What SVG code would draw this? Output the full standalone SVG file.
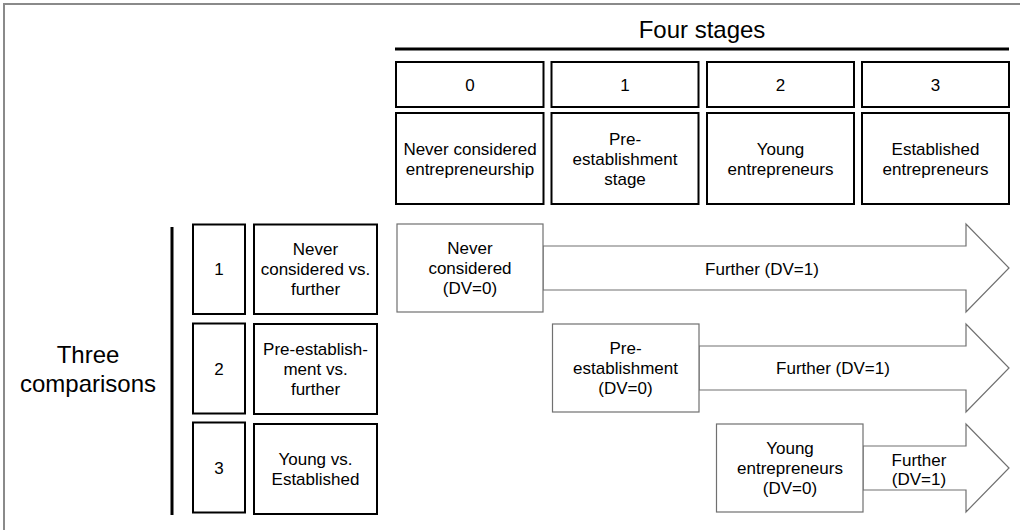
<svg xmlns="http://www.w3.org/2000/svg" width="1020" height="530" viewBox="0 0 1020 530">
<style>
  text { font-family: "Liberation Sans", Arial, sans-serif; fill: #000; text-anchor: middle; }
  .t17 { font-size: 17px; }
  .title { font-size: 24px; }
  .bold { fill: #fff; stroke: #000; stroke-width: 2; }
  .thin { fill: #fff; stroke: #707070; stroke-width: 1.2; }
  .bar { stroke: #000; stroke-width: 3; fill: none; }
  .frame { fill: none; stroke: #8a8a8a; stroke-width: 2; }
</style>
<rect width="1020" height="530" fill="#fff"/>
<rect class="frame" x="4" y="4" width="1040" height="560"/>

<g id="title-stages">
  <text class="title" x="702" y="38">Four stages</text>
  <line class="bar" x1="395" y1="49" x2="1009" y2="49"/>
</g>

<g id="stage-0">
  <rect class="bold" x="396" y="62" width="147.5" height="45"/>
  <text class="t17" x="470" y="91">0</text>
  <rect class="bold" x="396" y="113" width="147.5" height="91"/>
  <text class="t17" x="470" y="155">Never considered</text>
  <text class="t17" x="470" y="175">entrepreneurship</text>
</g>
<g id="stage-1">
  <rect class="bold" x="551.5" y="62" width="147" height="45"/>
  <text class="t17" x="625" y="91">1</text>
  <rect class="bold" x="551.5" y="113" width="147" height="91"/>
  <text class="t17" x="625" y="145">Pre-</text>
  <text class="t17" x="625" y="165">establishment</text>
  <text class="t17" x="625" y="185">stage</text>
</g>
<g id="stage-2">
  <rect class="bold" x="707" y="62" width="147" height="45"/>
  <text class="t17" x="780.5" y="91">2</text>
  <rect class="bold" x="707" y="113" width="147" height="91"/>
  <text class="t17" x="780.5" y="155">Young</text>
  <text class="t17" x="780.5" y="175">entrepreneurs</text>
</g>
<g id="stage-3">
  <rect class="bold" x="862" y="62" width="147" height="45"/>
  <text class="t17" x="935.5" y="91">3</text>
  <rect class="bold" x="862" y="113" width="147" height="91"/>
  <text class="t17" x="935.5" y="155">Established</text>
  <text class="t17" x="935.5" y="175">entrepreneurs</text>
</g>

<g id="title-comparisons">
  <text class="title" x="88" y="363">Three</text>
  <text class="title" x="88" y="392">comparisons</text>
  <line class="bar" x1="172" y1="227" x2="172" y2="515"/>
</g>

<g id="comparison-1">
  <rect class="bold" x="193" y="224.5" width="52" height="89.5"/>
  <text class="t17" x="219" y="275">1</text>
  <rect class="bold" x="254" y="224.5" width="123" height="89.5"/>
  <text class="t17" x="315.5" y="255">Never</text>
  <text class="t17" x="315.5" y="275">considered vs.</text>
  <text class="t17" x="315.5" y="295">further</text>
</g>
<g id="comparison-2">
  <rect class="bold" x="193" y="323.5" width="52" height="90"/>
  <text class="t17" x="219" y="374.5">2</text>
  <rect class="bold" x="254" y="324" width="123" height="90"/>
  <text class="t17" x="315.5" y="355">Pre-establish-</text>
  <text class="t17" x="315.5" y="375">ment vs.</text>
  <text class="t17" x="315.5" y="395">further</text>
</g>
<g id="comparison-3">
  <rect class="bold" x="193" y="422.5" width="52" height="90"/>
  <text class="t17" x="219" y="473.5">3</text>
  <rect class="bold" x="254" y="424" width="123" height="90"/>
  <text class="t17" x="315.5" y="465">Young vs.</text>
  <text class="t17" x="315.5" y="485">Established</text>
</g>

<g id="connectors">
  <polygon class="thin" points="543,246 966,246 966,224 1009,268 966,312 966,290 543,290"/>
  <polygon class="thin" points="699,346 966,346 966,324 1009,368 966,412 966,390 699,390"/>
  <polygon class="thin" points="863,446 966,446 966,424 1009,468 966,512 966,490 863,490"/>
  <text class="t17" x="762" y="275">Further (DV=1)</text>
  <text class="t17" x="833" y="374">Further (DV=1)</text>
  <text class="t17" x="919" y="466">Further</text>
  <text class="t17" x="919" y="485">(DV=1)</text>
</g>

<g id="group-0">
  <rect class="thin" x="397" y="224" width="146" height="88"/>
  <text class="t17" x="470" y="254">Never</text>
  <text class="t17" x="470" y="274">considered</text>
  <text class="t17" x="470" y="294">(DV=0)</text>
</g>
<g id="group-1">
  <rect class="thin" x="552.5" y="324" width="146.5" height="88"/>
  <text class="t17" x="625.5" y="354">Pre-</text>
  <text class="t17" x="625.5" y="374">establishment</text>
  <text class="t17" x="625.5" y="394">(DV=0)</text>
</g>
<g id="group-2">
  <rect class="thin" x="716.5" y="424" width="146.5" height="88"/>
  <text class="t17" x="790" y="454">Young</text>
  <text class="t17" x="790" y="474">entrepreneurs</text>
  <text class="t17" x="790" y="494">(DV=0)</text>
</g>
</svg>
